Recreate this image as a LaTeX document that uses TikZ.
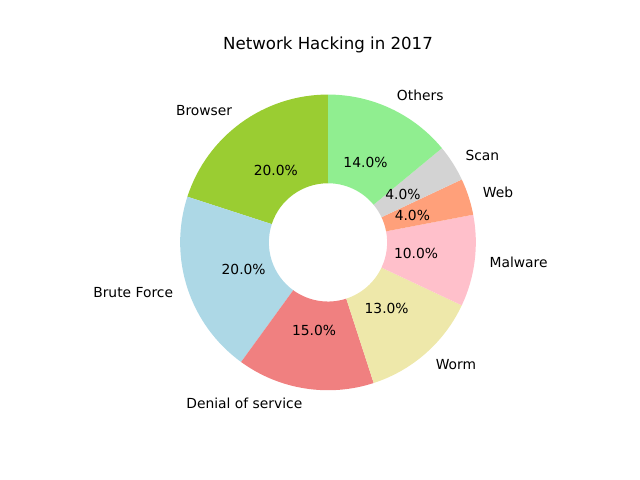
\documentclass[tikz,border=0pt]{standalone}
\usepackage{fontspec}
\setmainfont{DejaVu Sans}
\definecolor{browser}{RGB}{154,205,50}
\definecolor{brute}{RGB}{173,216,230}
\definecolor{denial}{RGB}{240,128,128}
\definecolor{worm}{RGB}{238,232,170}
\definecolor{malware}{RGB}{255,192,203}
\definecolor{web}{RGB}{255,160,122}
\definecolor{scan}{RGB}{211,211,211}
\definecolor{others}{RGB}{144,238,144}
\tikzset{
  lbl/.style={font=\fontsize{10}{12}\selectfont, inner sep=0pt},
  pct/.style={font=\fontsize{10}{12}\selectfont, inner sep=0pt, anchor=center}
}
\begin{document}
\begin{tikzpicture}[x=0.01in, y=0.01in]
                        \useasboundingbox (0,0) rectangle (640,480);
                        \coordinate (c) at (328,237.6);
                        % wedges, outer radius 147.84, inner 59.14
                        \foreach \from/\to/\col in {90/162/browser, 162/234/brute, 234/288/denial, 288/334.8/worm, 334.8/370.8/malware, 370.8/385.2/web, 385.2/399.6/scan, 399.6/450/others}
                                \fill[\col, shift={(c)}] (\from:147.84) arc[start angle=\from, end angle=\to, radius=147.84] -- (\to:59.14) arc[start angle=\to, end angle=\from, radius=59.14] -- cycle;
                        \node[anchor=base, font=\fontsize{12}{14}\selectfont, inner sep=0pt] (title) at (328,430.7){Network Hacking in 2017};
                        \node[lbl, anchor=east] (browser) at ([shift={(126:162.6)}]c){Browser};
                        \node[lbl, anchor=east] (brute) at ([shift={(198:162.6)}]c){Brute Force};
                        \node[lbl, anchor=east] (denial) at ([shift={(261:162.6)}]c){Denial of service};
                        \node[lbl, anchor=west] (worm) at ([shift={(311.4:162.6)}]c){Worm};
                        \node[lbl, anchor=west] (malware) at ([shift={(352.8:162.6)}]c){Malware};
                        \node[lbl, anchor=west] (web) at ([shift={(18:162.6)}]c){Web};
                        \node[lbl, anchor=west] (scan) at ([shift={(32.4:162.6)}]c){Scan};
                        \node[lbl, anchor=west] (others) at ([shift={(65:162.6)}]c){Others};
                        \node[pct] (pbrowser) at ([shift={(126:88.7)}]c){20.0\%};
                        \node[pct] (pbrute) at ([shift={(198:88.7)}]c){20.0\%};
                        \node[pct] (pdenial) at ([shift={(261:88.7)}]c){15.0\%};
                        \node[pct] (pworm) at ([shift={(311.4:88.7)}]c){13.0\%};
                        \node[pct] (pmalware) at ([shift={(352.8:88.7)}]c){10.0\%};
                        \node[pct] (pweb) at ([shift={(18:88.7)}]c){4.0\%};
                        \node[pct] (pscan) at ([shift={(32.4:88.7)}]c){4.0\%};
                        \node[pct] (pothers) at ([shift={(65:88.7)}]c){14.0\%};
                \end{tikzpicture}
\end{document}
